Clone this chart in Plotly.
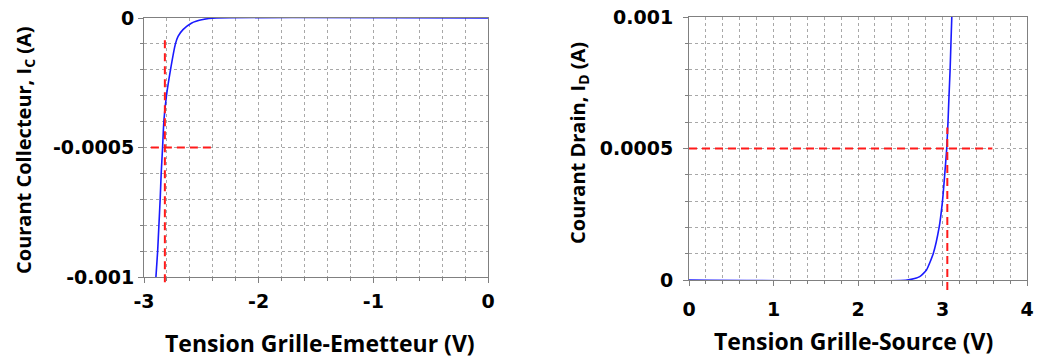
import plotly.graph_objects as go

# ---------------- data ----------------
# Left: IGBT-like p-channel characteristic
vge = [-2.896, -2.881, -2.870, -2.859, -2.850, -2.838, -2.827, -2.804, -2.769,
       -2.726, -2.703, -2.66, -2.587, -2.486, -2.37, 0.0]
ic = [-0.001, -0.0009, -0.0008, -0.0007, -0.0006, -0.0005, -0.0004, -0.0003,
      -0.0002, -0.0001, -0.000071, -0.000045, -0.00002, -0.000006, 0.0, 0.0]

# Right: MOSFET characteristic
vgs = [0.0, 2.58, 2.73, 2.81, 2.89, 2.96, 3.0, 3.026, 3.05, 3.065, 3.077, 3.09,
       3.10, 3.11]
id_ = [0.0, 0.0, 0.0000127, 0.000038, 0.0001, 0.0002, 0.0003, 0.0004, 0.0005,
       0.0006, 0.0007, 0.0008, 0.0009, 0.001]

# guide lines (red dashed)
left_hline_x = [-2.94, -2.414]
left_hline_y = -0.0005
left_vline_x = -2.818
left_vline_y = [-0.00102, -0.000081]

right_hline_x = [0.0, 3.59]
right_hline_y = 0.0005
right_vline_x = 3.057
right_vline_y = [-0.000038, 0.00058]

# axes ranges and tick labels
left_xrange = [-3, 0]
left_yrange = [-0.001, 0]
left_xtickvals = [-3, -2, -1, 0]
left_xticktext = ["-3", "-2", "-1", "0"]
left_ytickvals = [-0.001, -0.0005, 0]
left_yticktext = ["-0.001", "-0.0005", "0"]

right_xrange = [0, 4]
right_yrange = [0, 0.001]
right_xtickvals = [0, 1, 2, 3, 4]
right_xticktext = ["0", "1", "2", "3", "4"]
right_ytickvals = [0, 0.0005, 0.001]
right_yticktext = ["0", "0.0005", "0.001"]

# ---------------- figure ----------------
W, H = 1037, 358
BLUE = "#1a1aff"
RED = "#ff1a1a"
GRID = "#a8a8a8"
AXC = "#808080"

fig = go.Figure()

fig.add_trace(go.Scatter(x=vge, y=ic, mode="lines", xaxis="x", yaxis="y",
                         line=dict(color=BLUE, width=1.6, shape="spline", smoothing=0.5),
                         showlegend=False, hoverinfo="skip"))
fig.add_trace(go.Scatter(x=left_hline_x, y=[left_hline_y] * 2, mode="lines",
                         xaxis="x", yaxis="y",
                         line=dict(color=RED, width=2, dash="8px,5px"),
                         showlegend=False, hoverinfo="skip"))

fig.add_trace(go.Scatter(x=vgs, y=id_, mode="lines", xaxis="x2", yaxis="y2",
                         line=dict(color=BLUE, width=1.6, shape="spline", smoothing=0.5),
                         showlegend=False, hoverinfo="skip"))
fig.add_trace(go.Scatter(x=right_hline_x, y=[right_hline_y] * 2, mode="lines",
                         xaxis="x2", yaxis="y2",
                         line=dict(color=RED, width=2, dash="8px,5px"),
                         showlegend=False, hoverinfo="skip"))


def dom(v, rng):
    return (v - rng[0]) / (rng[1] - rng[0])


fig.add_shape(type="line", xref="x", yref="y domain",
              x0=left_vline_x, x1=left_vline_x,
              y0=dom(left_vline_y[0], left_yrange), y1=dom(left_vline_y[1], left_yrange),
              line=dict(color=RED, width=2, dash="8px,5px"))
fig.add_shape(type="line", xref="x2", yref="y2 domain",
              x0=right_vline_x, x1=right_vline_x,
              y0=dom(right_vline_y[0], right_yrange), y1=dom(right_vline_y[1], right_yrange),
              line=dict(color=RED, width=2, dash="8px,5px"))

tickfont = dict(family="DejaVu Sans", size=19, color="black", weight="bold")


def axis(rng, dom_, tv, tt, minor_dtick, anchor, standoff, ticklen=5):
    return dict(
        range=rng, domain=dom_, anchor=anchor,
        tickmode="array", tickvals=tv, ticktext=tt,
        tickfont=tickfont, ticks="outside", ticklen=ticklen, tickcolor=AXC,
        ticklabelstandoff=standoff,
        showline=True, linecolor=AXC, linewidth=1, mirror=True,
        showgrid=True, gridcolor=GRID, griddash="dot", gridwidth=1,
        zeroline=False, layer="below traces",
        minor=dict(dtick=minor_dtick, tick0=0, ticks="outside", ticklen=3,
                   tickcolor=AXC, showgrid=True, gridcolor=GRID, griddash="dot",
                   gridwidth=1),
        automargin=False, fixedrange=True,
    )


fig.update_layout(
    width=W, height=H,
    margin=dict(l=0, r=0, t=0, b=0),
    paper_bgcolor="white", plot_bgcolor="white",
    xaxis=axis(left_xrange, [144 / W, 488 / W], left_xtickvals, left_xticktext, 0.2, "y", 2),
    yaxis=axis(left_yrange, [1 - 277 / H, 1 - 18 / H], left_ytickvals, left_yticktext, 0.0001, "x", 0),
    xaxis2=axis(right_xrange, [689 / W, 1027 / W], right_xtickvals, right_xticktext, 0.2, "y2", 7),
    yaxis2=axis(right_yrange, [1 - 280 / H, 1 - 17 / H], right_ytickvals, right_yticktext, 0.0001, "x2", 6),
)

xtitlefont = dict(family="Open Sans", size=23, color="black", weight="bold")
ytitlefont = dict(family="Open Sans", size=20, color="black", weight="bold")
ann = [
    dict(text="Tension Grille-Emetteur (V)", x=320 / W, y=1 - 343 / H, textangle=0, font=xtitlefont),
    dict(text="Tension Grille-Source (V)", x=853 / W, y=1 - 341 / H, textangle=0, font=xtitlefont),
    dict(text="Courant Collecteur, I<sub>C</sub> (A)", x=25 / W, y=1 - 150 / H, textangle=-90, font=ytitlefont),
    dict(text="Courant Drain, I<sub>D</sub> (A)", x=578 / W, y=1 - 143 / H, textangle=-90, font=ytitlefont),
]
for a in ann:
    fig.add_annotation(xref="paper", yref="paper", xanchor="center", yanchor="middle",
                       showarrow=False, **a)

fig.write_html("out.html", config={"displayModeBar": False},
               post_script="document.body.style.margin='0';document.body.style.overflow='hidden';")
